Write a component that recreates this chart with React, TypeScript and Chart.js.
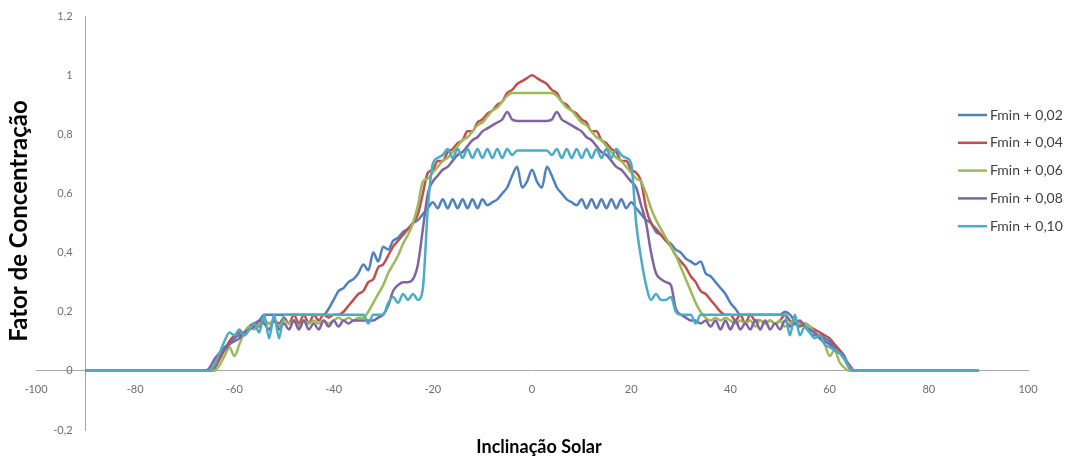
import React, { useEffect, useRef } from 'react';
import { Chart, registerables } from 'chart.js';

Chart.register(...registerables);

// Solar inclination (degrees)
const X = [
  -90, -66, -65, -64, -63, -62, -61,
  -60, -59, -58, -57, -56, -55, -54, -53, -52, -51,
  -50, -49, -48, -47, -46, -45, -44, -43, -42, -41,
  -40, -39, -38, -37, -36, -35, -34, -33, -32, -31,
  -30, -29, -28, -27, -26, -25, -24, -23, -22, -21,
  -20, -19, -18, -17, -16, -15, -14, -13, -12, -11,
  -10, -9, -8, -7, -6, -5, -4, -3, -2, -1,
  0, 1, 2, 3, 4, 5, 6, 7, 8, 9,
  10, 11, 12, 13, 14, 15, 16, 17, 18, 19,
  20, 21, 22, 23, 24, 25, 26, 27, 28, 29,
  30, 31, 32, 33, 34, 35, 36, 37, 38, 39,
  40, 41, 42, 43, 44, 45, 46, 47, 48, 49,
  50, 51, 52, 53, 54, 55, 56, 57, 58, 59,
  60, 61, 62, 63, 64, 65, 66, 90,
];

const F002 = [
  0, 0, 0, 0.01, 0.05, 0.08, 0.09,
  0.11, 0.12, 0.12, 0.14, 0.16, 0.17, 0.19, 0.19, 0.19, 0.19,
  0.19, 0.19, 0.19, 0.19, 0.19, 0.19, 0.19, 0.19, 0.19, 0.21,
  0.24, 0.27, 0.28, 0.3, 0.31, 0.33, 0.36, 0.34, 0.4, 0.37,
  0.42, 0.41, 0.44, 0.45, 0.47, 0.48, 0.5, 0.51, 0.53, 0.55,
  0.57, 0.55, 0.58, 0.55, 0.58, 0.55, 0.58, 0.55, 0.58, 0.55,
  0.58, 0.56, 0.57, 0.58, 0.6, 0.62, 0.66, 0.69, 0.62, 0.64,
  0.68, 0.64, 0.62, 0.69, 0.66, 0.62, 0.6, 0.58, 0.57, 0.56,
  0.58, 0.55, 0.58, 0.55, 0.58, 0.55, 0.58, 0.55, 0.58, 0.55,
  0.57, 0.55, 0.53, 0.51, 0.5, 0.47, 0.46, 0.44, 0.43, 0.41,
  0.4, 0.38, 0.37, 0.36, 0.37, 0.33, 0.32, 0.3, 0.28, 0.26,
  0.23, 0.21, 0.19, 0.19, 0.19, 0.19, 0.19, 0.19, 0.19, 0.19,
  0.19, 0.2, 0.19, 0.17, 0.16, 0.15, 0.13, 0.12, 0.12, 0.11,
  0.1, 0.08, 0.07, 0.05, 0.01, 0, 0, 0,
];

const F004 = [
  0, 0, 0, 0.01, 0.04, 0.07, 0.1,
  0.12, 0.13, 0.13, 0.15, 0.16, 0.15, 0.17, 0.16, 0.17, 0.16,
  0.18, 0.16, 0.19, 0.16, 0.19, 0.16, 0.19, 0.17, 0.19, 0.18,
  0.19, 0.19, 0.2, 0.22, 0.24, 0.26, 0.27, 0.3, 0.31, 0.35,
  0.36, 0.39, 0.42, 0.44, 0.46, 0.48, 0.5, 0.53, 0.6, 0.67,
  0.68, 0.71, 0.71, 0.74, 0.75, 0.77, 0.78, 0.81, 0.81, 0.84,
  0.85, 0.87, 0.88, 0.9, 0.91, 0.94, 0.95, 0.97, 0.98, 0.99,
  1.0, 0.99, 0.98, 0.97, 0.95, 0.94, 0.91, 0.9, 0.88, 0.87,
  0.85, 0.84, 0.81, 0.81, 0.78, 0.77, 0.75, 0.74, 0.71, 0.71,
  0.68, 0.67, 0.64, 0.55, 0.5, 0.48, 0.46, 0.44, 0.42, 0.39,
  0.37, 0.35, 0.32, 0.3, 0.27, 0.26, 0.24, 0.22, 0.2, 0.19,
  0.19, 0.17, 0.19, 0.16, 0.19, 0.17, 0.17, 0.16, 0.17, 0.16,
  0.17, 0.19, 0.17, 0.16, 0.15, 0.16, 0.15, 0.14, 0.13, 0.12,
  0.11, 0.09, 0.07, 0.04, 0.02, 0, 0, 0,
];

const F006 = [
  0, 0, 0, 0, 0.02, 0.05, 0.08,
  0.05, 0.09, 0.13, 0.15, 0.14, 0.16, 0.17, 0.16, 0.17, 0.15,
  0.17, 0.16, 0.17, 0.15, 0.17, 0.16, 0.17, 0.16, 0.17, 0.16,
  0.17, 0.18, 0.17, 0.18, 0.17, 0.18, 0.18, 0.2, 0.23, 0.26,
  0.29, 0.33, 0.36, 0.39, 0.43, 0.46, 0.5, 0.56, 0.64, 0.65,
  0.67, 0.69, 0.71, 0.72, 0.74, 0.76, 0.78, 0.79, 0.81, 0.83,
  0.84, 0.86, 0.88, 0.89, 0.91, 0.93, 0.94, 0.94, 0.94, 0.94,
  0.94, 0.94, 0.94, 0.94, 0.94, 0.93, 0.91, 0.89, 0.88, 0.86,
  0.84, 0.83, 0.81, 0.79, 0.78, 0.76, 0.74, 0.72, 0.71, 0.69,
  0.67, 0.65, 0.64, 0.6, 0.55, 0.51, 0.48, 0.45, 0.42, 0.39,
  0.35, 0.31, 0.27, 0.23, 0.2, 0.18, 0.17, 0.18, 0.17, 0.18,
  0.17, 0.16, 0.17, 0.16, 0.17, 0.15, 0.17, 0.16, 0.17, 0.16,
  0.17, 0.15, 0.16, 0.17, 0.16, 0.16, 0.15, 0.13, 0.11, 0.09,
  0.05, 0.07, 0.03, 0.01, 0, 0, 0, 0,
];

const F008 = [
  0, 0, 0.01, 0.04, 0.06, 0.07, 0.09,
  0.1, 0.11, 0.13, 0.14, 0.15, 0.17, 0.16, 0.14, 0.17, 0.14,
  0.16, 0.14, 0.17, 0.14, 0.17, 0.14, 0.16, 0.14, 0.17, 0.15,
  0.17, 0.15, 0.17, 0.16, 0.17, 0.17, 0.17, 0.17, 0.17, 0.18,
  0.19, 0.22, 0.27, 0.29, 0.3, 0.3, 0.31, 0.36, 0.48, 0.6,
  0.64, 0.66, 0.68, 0.69, 0.71, 0.73, 0.74, 0.76, 0.78, 0.79,
  0.81, 0.82, 0.83, 0.84, 0.85, 0.875, 0.85, 0.845, 0.845, 0.845,
  0.845, 0.845, 0.845, 0.845, 0.85, 0.875, 0.85, 0.84, 0.83, 0.82,
  0.81, 0.79, 0.78, 0.76, 0.74, 0.73, 0.71, 0.69, 0.68, 0.66,
  0.64, 0.62, 0.56, 0.5, 0.4, 0.33, 0.31, 0.3, 0.29, 0.21,
  0.19, 0.18, 0.17, 0.17, 0.16, 0.17, 0.15, 0.17, 0.14, 0.17,
  0.14, 0.17, 0.14, 0.16, 0.14, 0.17, 0.14, 0.17, 0.14, 0.16,
  0.14, 0.17, 0.15, 0.16, 0.17, 0.15, 0.14, 0.13, 0.11, 0.1,
  0.09, 0.07, 0.06, 0.04, 0.01, 0, 0, 0,
];

const F010 = [
  0, 0, 0, 0.02, 0.06, 0.1, 0.13,
  0.12, 0.14, 0.12, 0.14, 0.16, 0.13, 0.19, 0.11, 0.19, 0.11,
  0.19, 0.19, 0.19, 0.19, 0.19, 0.19, 0.19, 0.19, 0.19, 0.19,
  0.19, 0.19, 0.19, 0.19, 0.19, 0.19, 0.19, 0.16, 0.19, 0.19,
  0.19, 0.23, 0.25, 0.23, 0.26, 0.24, 0.26, 0.24, 0.28, 0.55,
  0.7, 0.72, 0.73, 0.75, 0.72, 0.75, 0.72, 0.75, 0.72, 0.75,
  0.72, 0.75, 0.72, 0.75, 0.72, 0.75, 0.73, 0.745, 0.745, 0.745,
  0.745, 0.745, 0.745, 0.745, 0.73, 0.75, 0.72, 0.75, 0.72, 0.75,
  0.72, 0.75, 0.72, 0.75, 0.72, 0.75, 0.72, 0.75, 0.73, 0.72,
  0.7, 0.5, 0.38, 0.29, 0.24, 0.26, 0.24, 0.24, 0.25, 0.2,
  0.19, 0.19, 0.19, 0.16, 0.19, 0.19, 0.19, 0.19, 0.19, 0.19,
  0.19, 0.19, 0.19, 0.19, 0.19, 0.19, 0.19, 0.19, 0.19, 0.19,
  0.19, 0.19, 0.12, 0.19, 0.12, 0.15, 0.13, 0.11, 0.12, 0.09,
  0.08, 0.07, 0.06, 0.04, 0.01, 0, 0, 0,
];

const SERIES_NAMES = ['Fmin + 0,02', 'Fmin + 0,04', 'Fmin + 0,06', 'Fmin + 0,08', 'Fmin + 0,10'];
const SERIES_VALUES = [F002, F004, F006, F008, F010];
const COLORS = ['#4F81BD', '#C0504D', '#9BBB59', '#8064A2', '#4BACC6'];

const X_TITLE = 'Inclinação Solar';
const Y_TITLE = 'Fator de Concentração';
const Y_AXIS_CROSS = -90;

const fmt = (v: number | string) => {
  const r = Math.round(Number(v) * 10) / 10;
  return String(r).replace('.', ',');
};

const decorPlugin = {
  id: 'decor',
  afterDraw(chart: any) {
    const ctx = chart.ctx as CanvasRenderingContext2D;
    ctx.save();

    // Y tick labels (drawn from the y scale, left of the crossing axis)
    const ys = chart.scales.y;
    const axisX = chart.scales.x.getPixelForValue(Y_AXIS_CROSS);
    ctx.fillStyle = '#6e6e6e';
    ctx.font = '11px Lato';
    ctx.textAlign = 'right';
    ctx.textBaseline = 'middle';
    ys.ticks.forEach((t: any) => {
      ctx.fillText(fmt(t.value), axisX - 13, ys.getPixelForValue(t.value));
    });

    // Axis titles
    ctx.fillStyle = '#000000';
    ctx.textAlign = 'center';
    ctx.textBaseline = 'middle';
    ctx.font = 'bold 18px Lato';
    ctx.fillText(X_TITLE, 539, 447);
    ctx.save();
    ctx.translate(19, 221);
    ctx.rotate(-Math.PI / 2);
    ctx.font = 'bold 24px Lato';
    ctx.fillText(Y_TITLE, 0, 0);
    ctx.restore();

    // Legend
    ctx.textAlign = 'left';
    ctx.textBaseline = 'middle';
    ctx.font = '14px Lato';
    SERIES_NAMES.forEach((name, i) => {
      const y = 115 + i * 27.8;
      ctx.strokeStyle = COLORS[i];
      ctx.lineWidth = 2.5;
      ctx.beginPath();
      ctx.moveTo(958, y);
      ctx.lineTo(987, y);
      ctx.stroke();
      ctx.fillStyle = '#404040';
      ctx.fillText(name, 990, y);
    });
    ctx.restore();
  },
};

export default function App() {
  const canvasRef = useRef<HTMLCanvasElement | null>(null);

  useEffect(() => {
    const canvas = canvasRef.current;
    if (!canvas) return;
    const datasets = SERIES_VALUES.map((vals, i) => ({
      label: SERIES_NAMES[i],
      data: X.map((x, j) => ({ x, y: vals[j] })),
      borderColor: COLORS[i],
      backgroundColor: COLORS[i],
      borderWidth: 2.5,
      pointRadius: 0,
      fill: false,
      cubicInterpolationMode: 'monotone' as const,
      order: SERIES_NAMES.length - i,
    }));

    const tickFont = { family: 'Lato', size: 11 };
    const chart = new Chart(canvas, {
      type: 'line',
      data: { datasets },
      options: {
        responsive: false,
        animation: false,
        layout: { padding: { left: 36, right: 45, top: 16, bottom: 33 } },
        plugins: {
          legend: { display: false },
          tooltip: { enabled: false },
          title: { display: false },
        },
        scales: {
          x: {
            type: 'linear',
            min: -100,
            max: 100,
            position: { y: 0 } as any,
            grid: { display: false, drawTicks: false },
            border: { display: true, color: '#a6a6a6', width: 1 },
            ticks: {
              stepSize: 20,
              padding: 12,
              color: '#6e6e6e',
              font: tickFont,
              maxRotation: 0,
              autoSkip: false,
              callback: (v: any) => fmt(v),
            },
          },
          y: {
            type: 'linear',
            min: -0.2,
            max: 1.2,
            position: { x: Y_AXIS_CROSS } as any,
            grid: { display: false, drawTicks: false },
            border: { display: true, color: '#a6a6a6', width: 1 },
            ticks: {
              display: false,
              stepSize: 0.2,
              autoSkip: false,
            },
          },
        },
      },
      plugins: [decorPlugin],
    });
    return () => chart.destroy();
  }, []);

  return (
    <div style={{ position: 'absolute', left: 0, top: 0, width: 1073, height: 463, background: '#ffffff' }}>
      <canvas ref={canvasRef} width={1073} height={463} style={{ display: 'block' }} />
    </div>
  );
}
